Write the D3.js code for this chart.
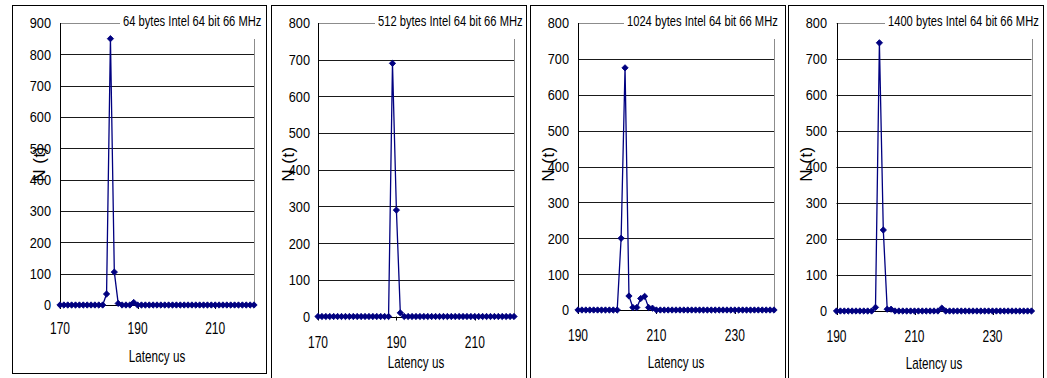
<!DOCTYPE html>
<html><head><meta charset="utf-8">
<script src="https://cdn.jsdelivr.net/npm/d3@7"></script>
<style>body{margin:0;background:#fff}svg{display:block}</style>
</head><body>
<svg id="c" width="1047" height="378"></svg>
<script>
// ---- data ----
const legendTitles = ["64 bytes  Intel 64 bit 66 MHz", "512 bytes Intel 64 bit 66 MHz", "1024 bytes  Intel 64 bit 66 MHz", "1400 bytes  Intel 64 bit 66 MHz"];
const xAxisTitle = "Latency us";
const yAxisTitle = "N (t)";

const latencyA = [170,171,172,173,174,175,176,177,178,179,180,181,182,183,184,185,186,187,188,189,190,191,192,193,194,195,196,197,198,199,200,201,202,203,204,205,206,207,208,209,210,211,212,213,214,215,216,217,218,219,220];
const latencyB = [190,191,192,193,194,195,196,197,198,199,200,201,202,203,204,205,206,207,208,209,210,211,212,213,214,215,216,217,218,219,220,221,222,223,224,225,226,227,228,229,230,231,232,233,234,235,236,237,238,239,240];

const counts64   = [0,0,0,0,0,0,0,0,0,0,0,0,35,850,105,5,0,0,0,8,0,0,0,0,0,0,0,0,0,0,0,0,0,0,0,0,0,0,0,0,0,0,0,0,0,0,0,0,0,0,0];
const counts512  = [0,0,0,0,0,0,0,0,0,0,0,0,0,0,0,0,0,0,0,690,290,10,0,0,0,0,0,0,0,0,0,0,0,0,0,0,0,0,0,0,0,0,0,0,0,0,0,0,0,0,0];
const counts1024 = [0,0,0,0,0,0,0,0,0,0,0,200,675,39,7,7,32,38,7,5,0,0,0,0,0,0,0,0,0,0,0,0,0,0,0,0,0,0,0,0,0,0,0,0,0,0,0,0,0,0,0];
const counts1400 = [0,0,0,0,0,0,0,0,0,0,10,745,225,5,5,0,0,0,0,0,0,0,0,0,0,0,0,8,0,0,0,0,0,0,0,0,0,0,0,0,0,0,0,0,0,0,0,0,0,0,0];

const yTicks900 = [0,100,200,300,400,500,600,700,800,900];
const yTicks800 = [0,100,200,300,400,500,600,700,800];
const xTickLabelsA = [170,190,210];
const xTickLabelsB = [190,210,230];

// ---- layout ----
const FONT = "'Liberation Sans',Arial,sans-serif";
const panels = [
  {title: legendTitles[0], xs: latencyA, ys: counts64, yt: yTicks900, xt: xTickLabelsA,
   frame:[12,5,266,373], plot:{l:60,r:254,t:23,b:305}, legendX:123, tickRight:51, yTitleX:45, xLabY:334, xTitleY:362},
  {title: legendTitles[1], xs: latencyA, ys: counts512, yt: yTicks800, xt: xTickLabelsA,
   frame:[271,5,526,380], plot:{l:318,r:514,t:23,b:316.5}, legendX:378, tickRight:310, yTitleX:294, xLabY:348, xTitleY:368},
  {title: legendTitles[2], xs: latencyB, ys: counts1024, yt: yTicks800, xt: xTickLabelsB,
   frame:[530,5,785,380], plot:{l:578,r:774,t:23,b:310}, legendX:627, tickRight:569, yTitleX:554, xLabY:341, xTitleY:368},
  {title: legendTitles[3], xs: latencyB, ys: counts1400, yt: yTicks800, xt: xTickLabelsB,
   frame:[788,5,1043,380], plot:{l:836.5,r:1031.5,t:23,b:311}, legendX:888, tickRight:827, yTitleX:812, xLabY:342, xTitleY:369}
];

const svg = d3.select("#c");
const navy = "#000080";

// condensed text helper
function ctext(sel, x, y, str, size, sx, anchor, dy) {
  const t = sel.append("g").attr("transform", `translate(${x},${y}) scale(${sx},1)`)
    .append("text").attr("font-family", FONT).attr("font-size", size).attr("fill", "#000")
    .attr("text-anchor", anchor || "start").text(str);
  if (dy) t.attr("dy", dy);
  return t;
}

panels.forEach(p => {
  const g = svg.append("g");
  const [fx0, fy0, fx1, fy1] = p.frame;
  const P = p.plot;
  const x = d3.scaleLinear().domain([p.xs[0], p.xs[p.xs.length-1]]).range([P.l, P.r]);
  const y = d3.scaleLinear().domain([0, d3.max(p.yt)]).range([P.b, P.t]);

  // frame
  g.append("rect").attr("x", fx0+0.5).attr("y", fy0+0.5).attr("width", fx1-fx0).attr("height", fy1-fy0)
    .attr("fill", "#fff").attr("stroke", "#000").attr("stroke-width", 1);

  // gridlines (excluding 0 and max)
  g.append("g").selectAll("line").data(p.yt.filter(v => v > 0 && v < d3.max(p.yt))).join("line")
    .attr("x1", P.l).attr("x2", P.r)
    .attr("y1", d => Math.round(y(d))+0.5).attr("y2", d => Math.round(y(d))+0.5)
    .attr("stroke", "#1a1a1a").attr("stroke-width", 1);

  // plot area border top & right (gray)
  g.append("line").attr("x1", P.l).attr("x2", P.r).attr("y1", Math.round(P.t)+0.5).attr("y2", Math.round(P.t)+0.5)
    .attr("stroke", "#8c8c8c");
  g.append("line").attr("x1", Math.round(P.r)+0.5).attr("x2", Math.round(P.r)+0.5).attr("y1", P.t).attr("y2", P.b)
    .attr("stroke", "#8c8c8c");

  // axes lines
  g.append("line").attr("x1", Math.round(P.l)+0.5).attr("x2", Math.round(P.l)+0.5).attr("y1", P.t).attr("y2", P.b)
    .attr("stroke", "#000");
  g.append("line").attr("x1", P.l).attr("x2", P.r).attr("y1", Math.round(P.b)+0.5).attr("y2", Math.round(P.b)+0.5)
    .attr("stroke", "#000");

  // x ticks
  g.append("g").selectAll("line").data(p.xt).join("line")
    .attr("x1", d => Math.round(x(d))+0.5).attr("x2", d => Math.round(x(d))+0.5)
    .attr("y1", P.b).attr("y2", P.b+4).attr("stroke", "#000");

  // y tick labels
  const yl = g.append("g");
  p.yt.forEach(v => ctext(yl, p.tickRight, y(v), String(v), 15, 0.85, "end", "0.36em"));

  // x tick labels
  const xl = g.append("g");
  p.xt.forEach(v => ctext(xl, x(v), p.xLabY, String(v), 16, 0.75, "middle"));

  // y axis title
  g.append("text").attr("transform", `translate(${p.yTitleX},${164}) rotate(-90)`)
    .attr("text-anchor", "middle").attr("font-family", FONT).attr("font-size", 17).attr("letter-spacing", 0.5)
    .attr("fill", "#000").text(yAxisTitle);

  // x axis title
  ctext(g, (P.l+P.r)/2, p.xTitleY, xAxisTitle, 16, 0.73, "middle");

  // series line
  const pts = p.xs.map((v, i) => [v, p.ys[i]]);
  g.append("path").datum(pts)
    .attr("d", d3.line().x(d => x(d[0])).y(d => y(d[1])))
    .attr("fill", "none").attr("stroke", navy).attr("stroke-width", 1.3);

  // markers
  g.append("g").selectAll("path").data(pts).join("path")
    .attr("transform", d => `translate(${x(d[0])},${y(d[1])}) rotate(45)`)
    .attr("d", d3.symbol(d3.symbolSquare, 20)())
    .attr("fill", navy).attr("stroke", navy).attr("stroke-width", 0.8).attr("stroke-linejoin", "round");

  // legend box (white, covering top-right)
  g.append("rect").attr("x", p.legendX-3).attr("y", fy0+1).attr("width", fx1 - p.legendX + 2).attr("height", 33)
    .attr("fill", "#fff");
  ctext(g, p.legendX, 26, p.title, 14.5, 0.77, "start");
});
</script>
</body></html>
